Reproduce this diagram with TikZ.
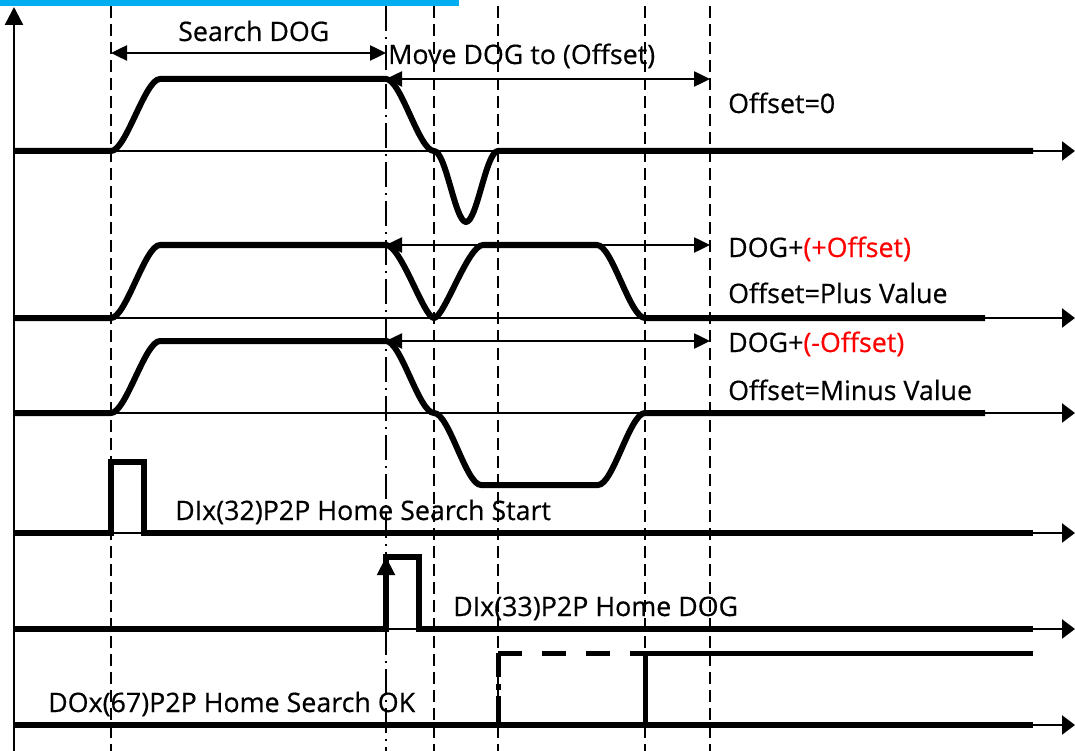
\documentclass[tikz,border=0pt]{standalone}
\usepackage{fontspec}
\setmainfont{Open Sans}[FakeBold=0.5]
\usetikzlibrary{arrows.meta}
\begin{document}
\begin{tikzpicture}[x=1pt,y=-1pt,
 sig/.style={line width=6pt, line join=round},
 baseln/.style={line width=2.5pt, -{Triangle[length=13pt,width=19pt]}},
 guide/.style={line width=2pt, dash pattern=on 12pt off 6pt},
 guidedd/.style={line width=2pt, dash pattern=on 25pt off 6pt on 2pt off 6pt},
 span/.style={line width=2.5pt, {Triangle[length=16pt,width=15pt]}-{Triangle[length=16pt,width=15pt]}},
 lbl/.style={anchor=base west, inner sep=0pt, font=\fontsize{26.8}{30}\selectfont},
]
\useasboundingbox (0,0) rectangle (1075,751);
\fill[cyan] (0,0) rectangle (459,6);
% guide lines
\coordinate (gA) at (111,6);  \coordinate (gAb) at (111,751);
\coordinate (gB) at (386,6);  \coordinate (gBb) at (386,751);
\coordinate (gC) at (434,6);  \coordinate (gCb) at (434,751);
\coordinate (gD) at (498,6);  \coordinate (gDb) at (498,751);
\coordinate (gE) at (645,6);  \coordinate (gEb) at (645,751);
\coordinate (gF) at (710,6);  \coordinate (gFb) at (710,751);
\draw[guide] (gA) -- (gAb);
\draw[guidedd] (gB) -- (gBb);
\draw[guide] (gC) -- (gCb);
\draw[guide] (gD) -- (gDb);
\draw[guide] (gE) -- (gEb);
\draw[guide] (gF) -- (gFb);
% y axis
\coordinate (ax0) at (14,751); \coordinate (ax1) at (14,7);
\draw[line width=2.5pt, -{Triangle[length=18pt,width=18pt]}] (ax0) -- (ax1);
% baselines
\foreach \n/\y in {r1/151, r2/318, r3/413, r4/533, r5/629, r6/725}{
  \coordinate (\n s) at (14,\y); \coordinate (\n e) at (1075,\y);
  \draw[baseln] (\n s) -- (\n e);
}
% row 1
\draw[sig] (14,151) -- (111,151) .. controls (126,151) and (145,79) .. (160,79) -- (386,79)
  .. controls (401,79) and (419,151) .. (434,151)
  .. controls (446,151) and (455,222) .. (466,222)
  .. controls (477,222) and (486,151) .. (498,151) -- (1033,151);
% row 2
\draw[sig] (14,318) -- (111,318) .. controls (126,318) and (145,245) .. (160,245) -- (386,245)
  .. controls (401,245) and (424,318) .. (434,318)
  .. controls (444,318) and (468,245) .. (483,245) -- (597,245)
  .. controls (612,245) and (630,318) .. (645,318) -- (985,318);
% row 3
\draw[sig] (14,413) -- (111,413) .. controls (126,413) and (145,341) .. (160,341) -- (386,341)
  .. controls (401,341) and (419,413) .. (434,413)
  .. controls (449,413) and (466,485) .. (481,485) -- (598,485)
  .. controls (613,485) and (630,413) .. (645,413) -- (985,413);
% row 4
\draw[sig, line join=miter] (14,533) -- (111,533) -- (111,462) -- (144,462) -- (144,533) -- (1033,533);
% row 5
\draw[sig, line join=miter] (14,629) -- (386,629) -- (386,557) -- (419,557) -- (419,629) -- (1033,629);
\coordinate (up0) at (386,600); \coordinate (up1) at (386,557);
\draw[line width=2pt, -{Triangle[length=18pt,width=18pt]}] (up0) -- (up1);
% row 6
\draw[sig] (14,725) -- (1033,725);
\draw[line width=5pt, dash pattern=on 24pt off 20pt] (498,653) -- (645,653);
\draw[line width=5pt, dash pattern=on 24pt off 7pt on 6pt off 6pt on 30pt] (498,653) -- (498,722);
\draw[line width=5pt, line join=miter] (645,725) -- (645,653) -- (1033,653);
% spans
\coordinate (s1a) at (111,53); \coordinate (s1b) at (386,53);
\draw[span] (s1a) -- (s1b);
\coordinate (s2a) at (386,79); \coordinate (s2b) at (710,79);
\draw[span] (s2a) -- (s2b);
\coordinate (s3a) at (386,245); \coordinate (s3b) at (710,245);
\draw[span] (s3a) -- (s3b);
\coordinate (s4a) at (386,341); \coordinate (s4b) at (710,341);
\draw[span] (s4a) -- (s4b);
% labels
\node[lbl] (t1) at (178,41) {Search DOG};
\node[lbl] (t2) at (388,64) {Move DOG to (Offset)};
\node[lbl] (t3) at (728,113) {Offset=0};
\node[lbl] (t4) at (728,257) {DOG+\textcolor{red}{(+Offset)}};
\node[lbl] (t5) at (728,303) {Offset=Plus Value};
\node[lbl] (t6) at (728,352) {DOG+\textcolor{red}{(-Offset)}};
\node[lbl] (t7) at (728,400) {Offset=Minus Value};
\node[lbl] (t8) at (175,520) {DIx(32)P2P Home Search Start};
\node[lbl] (t9) at (453,616) {DIx(33)P2P Home DOG};
\node[lbl] (t10) at (48,712) {DOx(67)P2P Home Search OK};
\end{tikzpicture}
\end{document}
